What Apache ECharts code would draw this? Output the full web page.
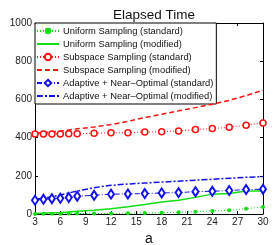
<!DOCTYPE html>
<html>
<head>
<meta charset="utf-8">
<script src="https://cdn.jsdelivr.net/npm/echarts@6/dist/echarts.min.js"></script>
<style>html,body{margin:0;padding:0;background:#fff}#c{width:273px;height:245px}</style>
</head>
<body>
<div id="c"></div>
<script>
var aValues = [3, 4, 5, 6, 7, 8, 10, 12, 14, 16, 18, 20, 22, 24, 26, 28, 30];
var uniformStandard = [0, 1, 1, 1, 2, 2, 2, 3, 4, 5, 7, 9, 12, 16, 20, 28, 37];
var uniformModified = [2, 4, 6, 8, 11, 14, 20, 28, 38, 50, 63, 72, 87, 104, 107, 121, 121];
var subspaceStandard = [419, 419, 419, 419, 420, 420, 423, 425, 426, 429, 431, 435, 442, 447, 454, 465, 477];
var subspaceModified = [423, 426, 430, 434, 440, 446, 456, 468, 485, 505, 522, 540, 557, 575, 595, 620, 648];
var adaptiveStandard = [72, 77, 80, 82, 86, 93, 98, 104, 105, 107, 110, 112, 117, 119, 123, 128, 130];
var adaptiveModified = [77, 82, 90, 100, 110, 120, 138, 150, 157, 162, 167, 172, 177, 182, 187, 192, 196];
var xTicks = [3, 6, 9, 12, 15, 18, 21, 24, 27, 30];
var yTicks = [0, 200, 400, 600, 800, 1000];
var names = ['Uniform Sampling (standard)', 'Uniform Sampling (modified)', 'Subspace Sampling (standard)', 'Subspace Sampling (modified)', 'Adaptive + Near\u2013Optimal (standard)', 'Adaptive + Near\u2013Optimal (modified)'];

function pairs(v) { return aValues.map(function (a, i) { return [a, v[i]]; }); }

var green = '#11dd11', red = '#ff1111', blue = '#1111ee';
var font = 'Liberation Sans, Arial, sans-serif';
var chart = echarts.init(document.getElementById('c'), null, {renderer: 'canvas'});
var axCommon = {
  axisLine: {show: true, onZero: false, lineStyle: {color: '#000', width: 1}},
  axisTick: {show: true, inside: true, length: 3, lineStyle: {color: '#000'}},
  splitLine: {show: false}
};
var legendData = names.map(function (n, i) {
  return (i % 2 === 1) ? {name: n, itemStyle: {opacity: 0}} : {name: n};
});
chart.setOption({
  animation: false,
  title: {text: 'Elapsed Time', left: 149, textAlign: 'center', top: 3,
    textStyle: {fontFamily: font, fontSize: 13.5, fontWeight: 'normal', color: '#111'}},
  grid: {left: 35, right: 10, top: 23, bottom: 31, containLabel: false, outerBoundsMode: 'none'},
  legend: {
    data: legendData, orient: 'vertical', left: 35, top: 23,
    backgroundColor: '#fff', borderColor: '#000', borderWidth: 1, borderRadius: 0,
    padding: [2, 3, 2, 1], itemGap: 1, itemWidth: 22, itemHeight: 8,
    textStyle: {fontFamily: font, fontSize: 9.4, lineHeight: 12, color: '#111', padding: [0, 0, 0, -1]}
  },
  xAxis: [
    Object.assign({type: 'value', min: 3, max: 30, interval: 3, position: 'bottom',
      name: 'a', nameLocation: 'middle', nameGap: 13,
      nameTextStyle: {fontFamily: font, fontSize: 14, color: '#111'},
      axisLabel: {fontFamily: font, fontSize: 10, color: '#222', margin: 3,
        formatter: function (v) { return xTicks.indexOf(v) >= 0 ? String(v) : ''; }}}, axCommon),
    Object.assign({type: 'value', min: 3, max: 30, interval: 3, position: 'top',
      axisLabel: {show: false}}, axCommon)
  ],
  yAxis: [
    Object.assign({type: 'value', min: 0, max: 1000, interval: 200, position: 'left',
      name: 'Time (s)', nameLocation: 'middle', nameGap: 23, nameRotate: 90,
      nameTextStyle: {fontFamily: font, fontSize: 12, color: '#111'},
      axisLabel: {fontFamily: font, fontSize: 10, color: '#222', margin: 3,
        formatter: function (v) { return yTicks.indexOf(v) >= 0 ? String(v) : ''; }}}, axCommon),
    Object.assign({type: 'value', min: 0, max: 1000, interval: 200, position: 'right',
      axisLabel: {show: false}}, axCommon)
  ],
  series: [
    {name: names[0], type: 'line', data: pairs(uniformStandard), symbol: 'circle', symbolSize: 4,
      itemStyle: {color: green}, lineStyle: {color: green, width: 1, type: [1, 2]}, z: 5},
    {name: names[1], type: 'line', data: pairs(uniformModified), symbol: 'none', showSymbol: false,
      itemStyle: {color: green}, lineStyle: {color: green, width: 1.5, type: 'solid'}, z: 4},
    {name: names[2], type: 'line', data: pairs(subspaceStandard), symbol: 'circle', symbolSize: 6,
      itemStyle: {color: '#fff', borderColor: red, borderWidth: 1.5},
      lineStyle: {color: red, width: 1, type: [1, 2]}, z: 5},
    {name: names[3], type: 'line', data: pairs(subspaceModified), symbol: 'none', showSymbol: false,
      itemStyle: {color: red}, lineStyle: {color: red, width: 1.5, type: [5, 3]}, z: 4},
    {name: names[4], type: 'line', data: pairs(adaptiveStandard), symbol: 'diamond', symbolSize: [6, 9],
      itemStyle: {color: '#fff', borderColor: blue, borderWidth: 2},
      lineStyle: {color: blue, width: 1, type: [5, 2, 1, 2]}, z: 5},
    {name: names[5], type: 'line', data: pairs(adaptiveModified), symbol: 'none', showSymbol: false,
      itemStyle: {color: blue}, lineStyle: {color: blue, width: 1.5, type: [6, 2, 2, 2]}, z: 4}
  ]
});
</script>
</body>
</html>
